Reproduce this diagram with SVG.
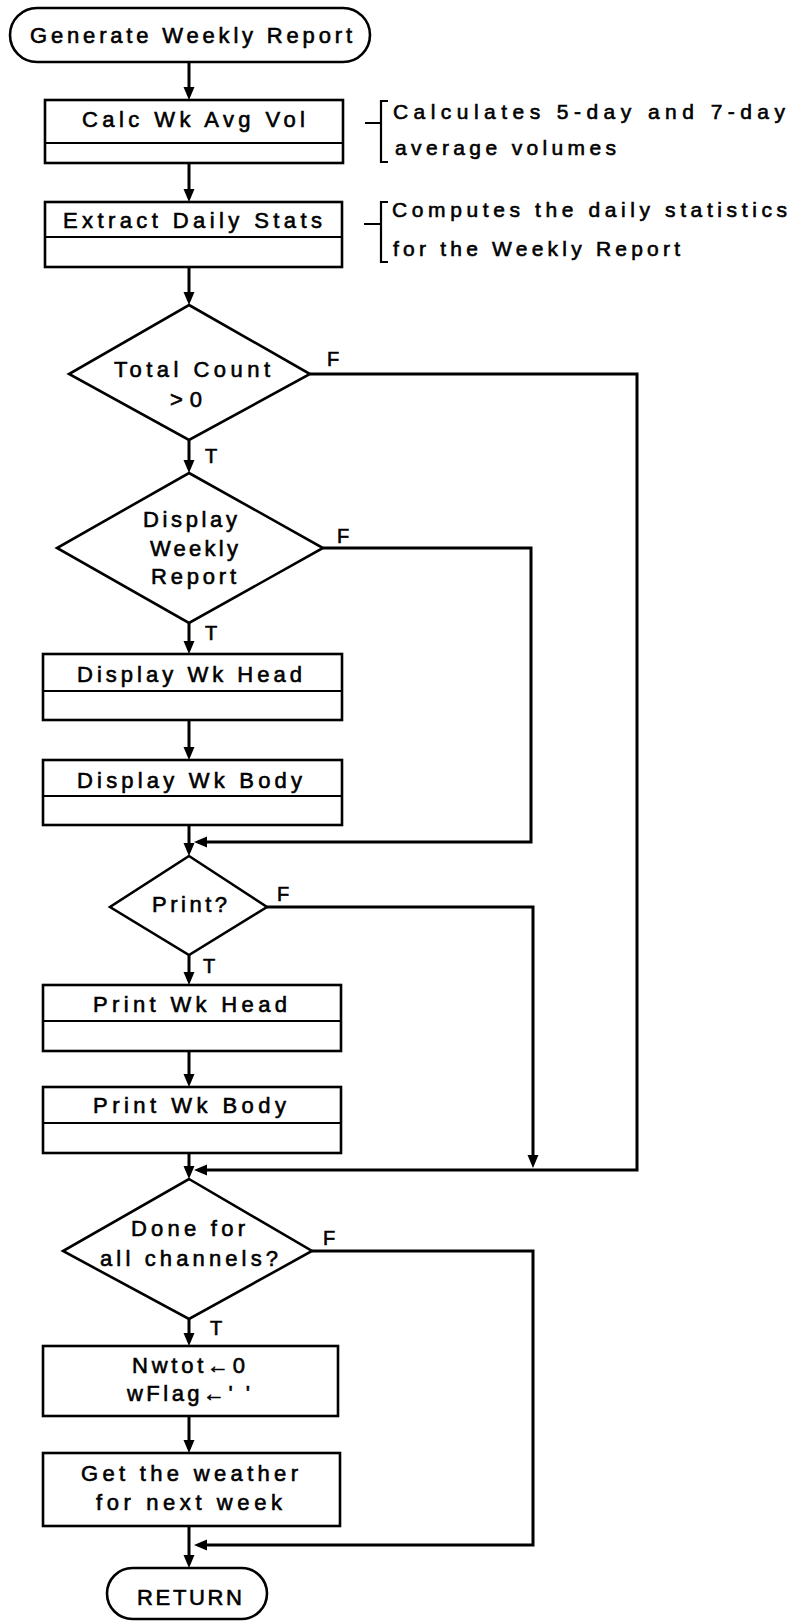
<svg xmlns="http://www.w3.org/2000/svg" width="793" height="1623" viewBox="0 0 793 1623">
<style>
.shape{fill:#fff;stroke:#000;stroke-width:2.6}
.div{fill:none;stroke:#000;stroke-width:2.2}
.conn{fill:none;stroke:#000;stroke-width:3}
.br{fill:none;stroke:#000;stroke-width:2.2}
text{font-family:"Liberation Sans",Arial,Helvetica,sans-serif;fill:#000;stroke:#000;stroke-width:0.6}
.t{font-size:22px}
.a{font-size:21px}
.l{font-size:20px}
</style>
<defs>
<marker id="arr" markerUnits="userSpaceOnUse" markerWidth="14" markerHeight="12" refX="9" refY="6" orient="auto">
<path d="M0,0.5 L13,6 L0,11.5 z" fill="#000"/>
</marker>
</defs>
<rect width="793" height="1623" fill="#fff"/>

<g id="connectors" class="conn" marker-end="url(#arr)">
<path d="M189,62 V96"/>
<path d="M189,163 V198"/>
<path d="M189,267 V301"/>
<path d="M189,440 V469"/>
<path d="M189,623 V650"/>
<path d="M189,720 V756"/>
<path d="M189,825 V852"/>
<path d="M323,548 H531 V842 H198"/>
<path d="M189,955 V981"/>
<path d="M189,1051 V1083"/>
<path d="M189,1153 V1175"/>
<path d="M267,907 H533 V1164"/>
<path d="M310,374 H637 V1170 H198"/>
<path d="M189,1319 V1342"/>
<path d="M189,1416 V1449"/>
<path d="M189,1526 V1564"/>
<path d="M312,1251 H533 V1545 H198"/>
</g>

<g id="labels">
<text class="l" x="327" y="366">F</text>
<text class="l" x="337" y="543">F</text>
<text class="l" x="277" y="901">F</text>
<text class="l" x="323" y="1245">F</text>
<text class="l" x="205" y="463">T</text>
<text class="l" x="205" y="640">T</text>
<text class="l" x="203" y="973">T</text>
<text class="l" x="210" y="1335">T</text>
</g>

<g id="start">
<rect class="shape" x="10" y="8" width="360" height="54" rx="27"/>
<text class="t" x="30" y="43" textLength="322" lengthAdjust="spacing">Generate Weekly Report</text>
</g>

<g id="calc">
<rect class="shape" x="45" y="100" width="298" height="63"/>
<line class="div" x1="45" y1="143" x2="343" y2="143"/>
<text class="t" x="82" y="127" textLength="223" lengthAdjust="spacing">Calc Wk Avg Vol</text>
</g>

<g id="note1">
<path class="br" d="M365,123 H381 M388,101 H381 V162 H388"/>
<text class="a" x="393" y="119" textLength="392" lengthAdjust="spacing">Calculates 5-day and 7-day</text>
<text class="a" x="395" y="155" textLength="221" lengthAdjust="spacing">average volumes</text>
</g>

<g id="extract">
<rect class="shape" x="45" y="202" width="297" height="65"/>
<line class="div" x1="45" y1="237" x2="342" y2="237"/>
<text class="t" x="63" y="228" textLength="259" lengthAdjust="spacing">Extract Daily Stats</text>
</g>

<g id="note2">
<path class="br" d="M364,224 H381 M388,202 H381 V262 H388"/>
<text class="a" x="392" y="217" textLength="395" lengthAdjust="spacing">Computes the daily statistics</text>
<text class="a" x="393" y="256" textLength="287" lengthAdjust="spacing">for the Weekly Report</text>
</g>

<g id="total">
<polygon class="shape" points="189,305 310,374 189,440 69,374"/>
<text class="t" x="114" y="377" textLength="156" lengthAdjust="spacing">Total Count</text>
<text class="t" x="170" y="407" textLength="32" lengthAdjust="spacing">&gt;0</text>
</g>

<g id="display">
<polygon class="shape" points="189,473 323,548 189,623 57,548"/>
<text class="t" x="143" y="527" textLength="94" lengthAdjust="spacing">Display</text>
<text class="t" x="150" y="556" textLength="88" lengthAdjust="spacing">Weekly</text>
<text class="t" x="151" y="584" textLength="85" lengthAdjust="spacing">Report</text>
</g>

<g id="dhead">
<rect class="shape" x="43" y="654" width="299" height="66"/>
<line class="div" x1="43" y1="691" x2="342" y2="691"/>
<text class="t" x="77" y="682" textLength="225" lengthAdjust="spacing">Display Wk Head</text>
</g>

<g id="dbody">
<rect class="shape" x="43" y="760" width="299" height="65"/>
<line class="div" x1="43" y1="796" x2="342" y2="796"/>
<text class="t" x="77" y="788" textLength="225" lengthAdjust="spacing">Display Wk Body</text>
</g>

<g id="print">
<polygon class="shape" points="189,856 267,907 189,955 110,907"/>
<text class="t" x="152" y="912" textLength="75" lengthAdjust="spacing">Print?</text>
</g>

<g id="phead">
<rect class="shape" x="43" y="985" width="298" height="66"/>
<line class="div" x1="43" y1="1021" x2="341" y2="1021"/>
<text class="t" x="93" y="1012" textLength="194" lengthAdjust="spacing">Print Wk Head</text>
</g>

<g id="pbody">
<rect class="shape" x="43" y="1087" width="298" height="66"/>
<line class="div" x1="43" y1="1123" x2="341" y2="1123"/>
<text class="t" x="93" y="1113" textLength="193" lengthAdjust="spacing">Print Wk Body</text>
</g>

<g id="done">
<polygon class="shape" points="189,1179 312,1251 189,1319 63,1251"/>
<text class="t" x="131" y="1236" textLength="114" lengthAdjust="spacing">Done for</text>
<text class="t" x="100" y="1266" textLength="178" lengthAdjust="spacing">all channels?</text>
</g>

<g id="reset">
<rect class="shape" x="43" y="1346" width="295" height="70"/>
<text class="t" x="132" y="1373" textLength="113" lengthAdjust="spacing">Nwtot←0</text>
<text class="t" x="127" y="1401" textLength="123" lengthAdjust="spacing">wFlag←' '</text>
</g>

<g id="weather">
<rect class="shape" x="43" y="1453" width="297" height="73"/>
<text class="t" x="81" y="1481" textLength="217" lengthAdjust="spacing">Get the weather</text>
<text class="t" x="96" y="1510" textLength="186" lengthAdjust="spacing">for next week</text>
</g>

<g id="return">
<rect class="shape" x="107" y="1568" width="160" height="51" rx="25.5"/>
<text class="t" x="137" y="1605" textLength="105" lengthAdjust="spacing">RETURN</text>
</g>
</svg>
